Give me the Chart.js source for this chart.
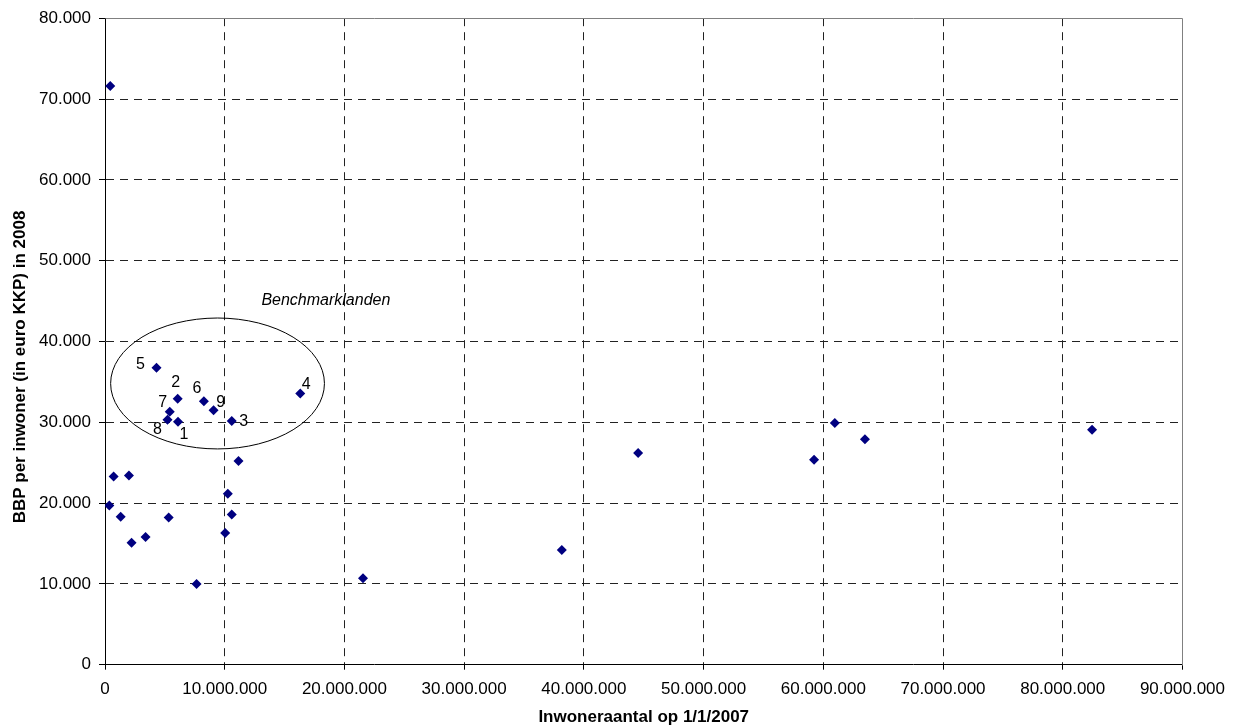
<!DOCTYPE html>
<html>
<head>
<meta charset="utf-8">
<script src="https://cdn.jsdelivr.net/npm/chart.js@4"></script>
<style>
  html, body { margin: 0; padding: 0; background: #fff; }
  #wrap { width: 1234px; height: 725px; }
</style>
</head>
<body>
<div id="wrap"><canvas id="myChart" width="1234" height="725"></canvas></div>
<script>
// Inwoners (1/1/2007) en BBP per inwoner (euro KKP, 2008)
const inwoners = [
  440000, 360000, 720000, 2000000, 1310000, 2220000, 3390000, 5320000, 7650000, 10040000,
  10260000, 10590000, 11150000, 21550000, 38160000, 44530000, 59230000, 60960000, 63480000, 82450000
];
const bbp = [
  71600, 19700, 23300, 23400, 18300, 15100, 15800, 18200, 10000, 16300,
  21150, 18600, 25200, 10700, 14200, 26200, 25350, 29900, 27900, 29070
];

// benchmarklanden met hun nummer
const benchInwoners = [6100000, 6070000, 10590000, 16310000, 4300000, 8260000, 5410000, 5220000, 9070000];
const benchBbp = [30060, 32900, 30150, 33570, 36740, 32600, 31300, 30300, 31500];
const benchNummers = ['1', '2', '3', '4', '5', '6', '7', '8', '9'];

const xTicks = [0, 10000000, 20000000, 30000000, 40000000, 50000000, 60000000, 70000000, 80000000, 90000000];
const yTicks = [0, 10000, 20000, 30000, 40000, 50000, 60000, 70000, 80000];

const xTitel = 'Inwoneraantal op 1/1/2007';
const yTitel = 'BBP per inwoner (in euro KKP) in 2008';
const groepLabel = 'Benchmarklanden';

const FONT = 'Arial, "Liberation Sans", sans-serif';

function punten(xs, ys) {
  return xs.map((x, i) => ({ x: x, y: ys[i] }));
}
function duizend(v) {
  return String(v).replace(/\B(?=(\d{3})+(?!\d))/g, '.');
}

// waar het nummer t.o.v. het punt staat (px)
const nummerOffset = {
  '1': [6, 13], '2': [-2, -16], '3': [12, 1], '4': [6, -9], '5': [-16, -3],
  '6': [-7, -13], '7': [-7, -9], '8': [-10, 10], '9': [7, -8]
};

const extras = {
  id: 'extras',
  beforeDatasetsDraw(chart) {
    const { ctx, chartArea: a, scales: { x, y } } = chart;
    ctx.save();
    // rand boven en rechts
    ctx.strokeStyle = '#808080';
    ctx.lineWidth = 1;
    ctx.beginPath();
    ctx.moveTo(Math.round(a.left) + 0.5, Math.round(a.top) + 0.5);
    ctx.lineTo(Math.round(a.right) + 0.5, Math.round(a.top) + 0.5);
    ctx.lineTo(Math.round(a.right) + 0.5, Math.round(a.bottom) + 0.5);
    ctx.stroke();

    // ellips rond de benchmarklanden
    const cx = x.getPixelForValue(9400000), cy = y.getPixelForValue(34800);
    const rx = x.getPixelForValue(9400000 + 8930000) - cx;
    const ry = cy - y.getPixelForValue(34800 + 8100);
    ctx.strokeStyle = '#000';
    ctx.beginPath();
    ctx.ellipse(cx, cy, rx, ry, 0, 0, Math.PI * 2);
    ctx.stroke();

    ctx.fillStyle = '#000';
    ctx.font = 'italic 16px ' + FONT;
    ctx.textAlign = 'center';
    ctx.textBaseline = 'middle';
    ctx.fillText(groepLabel, x.getPixelForValue(18450000), y.getPixelForValue(45000));

    ctx.font = '16px ' + FONT;
    benchNummers.forEach((n, i) => {
      const o = nummerOffset[n];
      ctx.fillText(n, x.getPixelForValue(benchInwoners[i]) + o[0], y.getPixelForValue(benchBbp[i]) + o[1]);
    });

    // y-as titel
    ctx.font = 'bold 17px ' + FONT;
    ctx.translate(20, 367);
    ctx.rotate(-Math.PI / 2);
    ctx.fillText(yTitel, 0, 0);
    ctx.restore();
  }
};

const ctx = document.getElementById('myChart').getContext('2d');

new Chart(ctx, {
  type: 'scatter',
  data: {
    datasets: [
      {
        data: punten(inwoners, bbp),
        pointStyle: 'rectRot',
        pointRadius: 5,
        borderWidth: 0,
        backgroundColor: '#000080',
        borderColor: '#000080'
      },
      {
        data: punten(benchInwoners, benchBbp),
        pointStyle: 'rectRot',
        pointRadius: 5,
        borderWidth: 0,
        backgroundColor: '#000080',
        borderColor: '#000080'
      }
    ]
  },
  options: {
    responsive: false,
    animation: false,
    layout: { padding: { top: 18, right: 45, bottom: 0, left: 0 } },
    plugins: { legend: { display: false }, tooltip: { enabled: false } },
    scales: {
      x: {
        type: 'linear',
        min: 0,
        max: 90000000,
        afterBuildTicks: s => { s.ticks = xTicks.map(v => ({ value: v })); },
        afterFit: s => { s.height = 60.3; },
        ticks: { color: '#000', font: { family: FONT, size: 17 }, padding: 9, maxRotation: 0, callback: v => duizend(v) },
        grid: {
          color: c => (c.tick && (c.tick.value === 90000000 || c.tick.value === 0)) ? 'rgba(0,0,0,0)' : '#222',
          tickLength: 5,
          tickColor: '#000',
          tickBorderDash: []
        },
        border: { display: true, color: '#000', width: 1, dash: [8, 6] },
        title: { display: true, text: xTitel, color: '#000', font: { family: FONT, size: 17, weight: 'bold' }, padding: { top: 0, bottom: -3 } }
      },
      y: {
        type: 'linear',
        min: 0,
        max: 80000,
        afterBuildTicks: s => { s.ticks = yTicks.map(v => ({ value: v })); },
        afterFit: s => { s.width = 105; },
        ticks: { color: '#000', font: { family: FONT, size: 17 }, padding: 8, callback: v => duizend(v) },
        grid: {
          color: c => (c.tick && (c.tick.value === 80000 || c.tick.value === 0)) ? 'rgba(0,0,0,0)' : '#222',
          tickLength: 6,
          tickColor: '#000',
          tickBorderDash: []
        },
        border: { display: true, color: '#000', width: 1, dash: [8, 6] }
      }
    }
  },
  plugins: [extras]
});
</script>
</body>
</html>
